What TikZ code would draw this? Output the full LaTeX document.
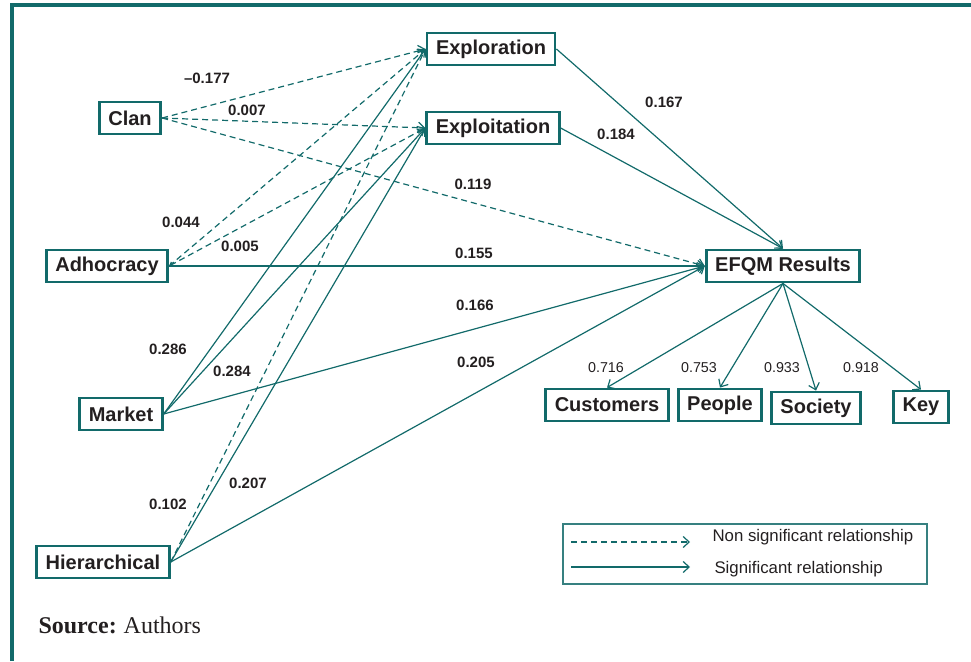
\documentclass[tikz,border=0pt]{standalone}
\usepackage{fontspec}
\usetikzlibrary{arrows.meta}
\newfontfamily\arialfont{Liberation Sans}
\newfontfamily\timesfont{Liberation Serif}
\definecolor{efqmteal}{RGB}{18,106,106}
\definecolor{efqmtext}{RGB}{35,31,32}

\begin{document}
\begin{tikzpicture}[x=1pt,y=-1pt,
    >={Straight Barb[length=6pt,width=11pt]},
    box/.style={draw=efqmteal,line width=2.9pt,fill=white,inner xsep=9pt,minimum height=32pt,text=efqmtext,font=\arialfont\bfseries\fontsize{20}{22}\selectfont},
    rel/.style={->,draw=efqmteal,line width=1.2pt},
    nonsig/.style={rel,dash pattern=on 6pt off 4pt},
    coef/.style={text=efqmtext,font=\arialfont\bfseries\fontsize{15}{18}\selectfont},
    load/.style={text=efqmtext,font=\arialfont\fontsize{14.3}{17}\selectfont},
    legtext/.style={text=efqmtext,anchor=west,font=\arialfont\fontsize{16.8}{20}\selectfont}]
    \useasboundingbox (0,0) rectangle (971,661);
    % frame
    \draw [efqmteal,line width=3.5pt] (12,661) -- (12,5) -- (971,5);
    % culture types
    \node [box] (clan) at (130,118) {Clan};
    \node [box] (adhoc) at (107,266) {Adhocracy};
    \node [box] (market) at (121,414) {Market};
    \node [box] (hier) at (103,562) {Hierarchical};
    % ambidexterity
    \node [box] (explor) at (491,49) {Exploration};
    \node [box] (exploit) at (493,128) {Exploitation};
    % results
    \node [box] (efqm) at (783,266) {EFQM Results};
    \node [box] (cust) at (607,405) {Customers};
    \node [box] (people) at (720,405) {People};
    \node [box] (society) at (816,408) {Society};
    \node [box] (key) at (921,407) {Key};

    \draw [nonsig] (clan.east) -- (explor.west);
    \draw [nonsig] (clan.east) -- (exploit.west);
    \draw [nonsig] (clan.east) -- (efqm.west);
    \draw [nonsig] (adhoc.east) -- (explor.west);
    \draw [nonsig,{Straight Barb[length=3pt,width=5pt]}->] (adhoc.east) -- (exploit.west);
    \draw [rel] (adhoc.east) -- (efqm.west);
    \draw [rel] (market.east) -- (explor.west);
    \draw [rel] (market.east) -- (exploit.west);
    \draw [rel] (market.east) -- (efqm.west);
    \draw [nonsig] (hier.east) -- (explor.west);
    \draw [rel] (hier.east) -- (exploit.west);
    \draw [rel] (hier.east) -- (efqm.west);
    \draw [rel] (explor.east) -- (efqm.north);
    \draw [rel] (exploit.east) -- (efqm.north);
    \draw [rel] (efqm.south) -- (cust.north);
    \draw [rel] (efqm.south) -- (people.north);
    \draw [rel] (efqm.south) -- (society.north);
    \draw [rel] (efqm.south) -- (key.north);

    % coefficients
    \node [coef] (c177) at (207,78) {\textendash0.177};
    \node [coef] (c007) at (247,110) {0.007};
    \node [coef] (c119) at (473,184) {0.119};
    \node [coef] (c044) at (181,222) {0.044};
    \node [coef] (c005) at (240,246) {0.005};
    \node [coef] (c155) at (474,253) {0.155};
    \node [coef] (c166) at (475,305) {0.166};
    \node [coef] (c286) at (168,349) {0.286};
    \node [coef] (c284) at (232,371) {0.284};
    \node [coef] (c205) at (476,362) {0.205};
    \node [coef] (c207) at (248,483) {0.207};
    \node [coef] (c102) at (168,504) {0.102};
    \node [coef] (c167) at (664,102) {0.167};
    \node [coef] (c184) at (616,134) {0.184};
    \node [load] (l716) at (606,368) {0.716};
    \node [load] (l753) at (699,368) {0.753};
    \node [load] (l933) at (782,368) {0.933};
    \node [load] (l918) at (861,368) {0.918};

    % legend
    \node [draw=efqmteal!85,line width=1.5pt,minimum width=364pt,minimum height=60pt] (legend) at (745,554) {};
    \coordinate (ns1) at (571,542);
    \coordinate (ns2) at (690,542);
    \coordinate (sg1) at (571,567);
    \coordinate (sg2) at (690,567);
    \draw [nonsig] (ns1) -- (ns2);
    \draw [rel] (sg1) -- (sg2);
    \node [legtext] (nstext) at (709,537) {Non significant relationship};
    \node [legtext] (sgtext) at (711,569) {Significant relationship};

    \node [anchor=west,text=efqmtext,font=\timesfont\fontsize{24}{28}\selectfont] (source) at (35,625) {\textbf{Source:}\hspace{-1pt} Authors};
\end{tikzpicture}
\end{document}
